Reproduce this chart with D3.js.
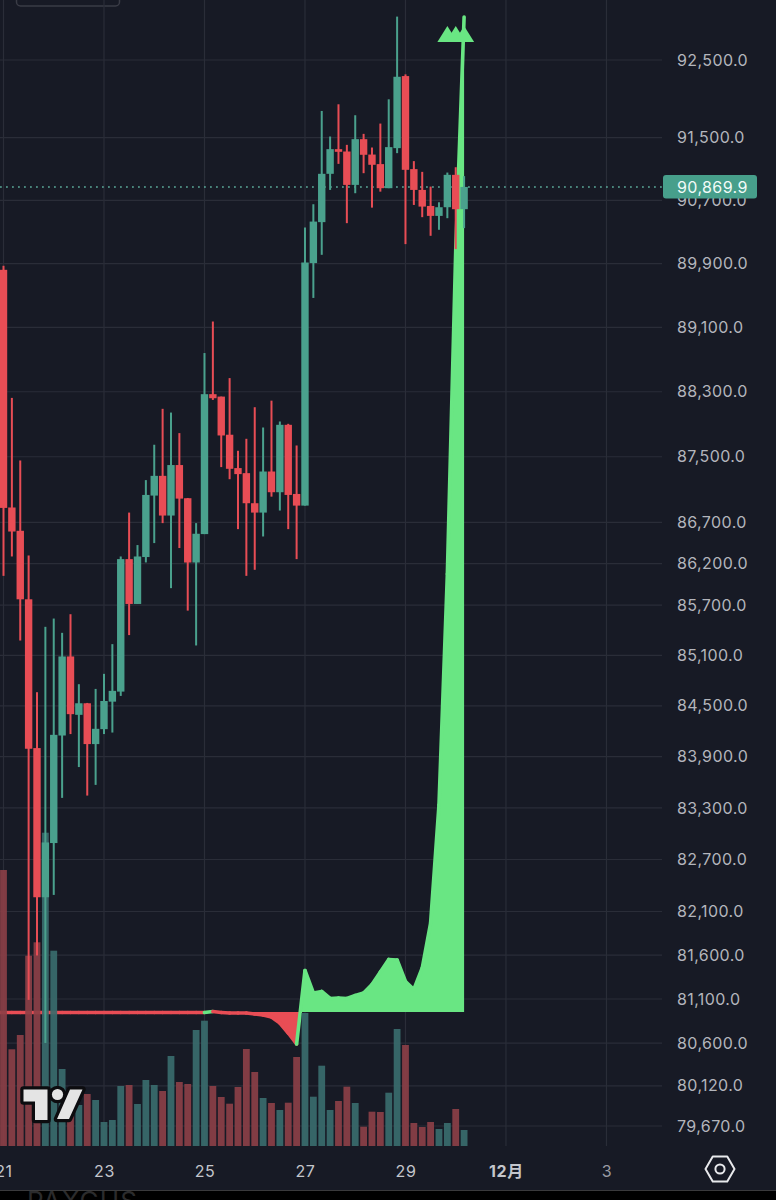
<!DOCTYPE html>
<html lang="en">
  <head>
    <meta charset="UTF-8" />
    <title>BTC 4h</title>
    <script src="https://cdn.jsdelivr.net/npm/d3@7/dist/d3.min.js"></script>
    <style>
      html, body { margin: 0; padding: 0; background: #000; overflow: hidden; }
      svg { display: block; }
      text { font-family: Inter, "Noto Sans CJK SC", sans-serif; }
    </style>
  </head>
  <body>
    <svg id="svgBox" width="776" height="1200"></svg>
  </body>
  <script>
    // 4h candles, index 0 = the 21st 00:00
    const opens = [89821,86880,86597,85770,84001,82264,82891,84149,85086,84393,84530,84048,84224,84549,84668,86254,85714,86279,87025,87266,86782,87398,86993,86213,86557,88270,88240,87770,87361,87299,86932,86818,87319,87066,87892,87045,86903,89906,90423,91037,91352,91322,90896,91480,91283,91161,90854,91365,92292,91097,90832,90628,90502,90612,91024,90587]
    const closes = [86875,86588,85770,83993,82264,82898,84157,85086,84401,84530,84048,84228,84557,84677,86254,85714,86286,87033,87266,86782,87398,86988,86213,86561,88270,88220,87761,87352,87287,86932,86818,87319,87066,87892,87033,86903,89913,90430,91037,91352,91318,90896,91480,91280,91152,90854,91378,92283,91088,90832,90620,90502,90612,91024,90587,90869.9]
    const highs = [89872,88224,87454,86298,84661,85440,85539,85368,85591,84756,84534,84700,84879,85233,86286,86818,86424,87214,87647,88089,88043,87790,86996,86690,88780,89173,88240,88469,87573,87720,88109,87859,88190,87933,87904,87638,90355,90650,91842,91514,91928,91407,91787,91548,91373,91680,91992,93064,92314,91199,91062,90874,90675,91053,91121,91008]
    const lows = [86052,86286,85276,81090,81596,80602,82291,83417,84166,83778,83444,83569,84166,84184,84617,85341,85714,86214,86448,86690,85904,86388,85634,85217,86557,88199,87373,87225,86617,86052,86125,86528,87012,86843,86617,86254,86903,89468,90010,90832,91164,90410,90790,91045,90607,90810,90854,91301,90145,90641,90486,90250,90326,90473,90082,90347]
    const volumes = [2760,967,1110,1903,2037,3133,1953,770,360,410,520,460,240,260,600,610,420,660,610,550,900,640,620,1160,1253,600,490,423,590,970,740,480,430,360,433,890,1330,493,803,360,450,593,430,193,343,340,533,1170,1010,230,190,240,170,230,370,160]
    // oscillator pane laid over the price pane
    const osc = [-0.5,-0.5,-0.5,-0.5,-0.5,-0.5,-0.5,-0.5,-0.5,-0.5,-0.5,-0.5,-0.5,-0.5,-0.5,-0.5,-0.5,-0.5,-0.5,-0.5,-0.5,-0.5,-0.5,-0.5,-0.5,0.5,-0.5,-1,-1,-1,-2,-3,-5,-11,-21,-32,41.5,19,20.5,13.5,14,13.5,16.5,19,27.5,40,52.5,52,30.5,22.5,44,89,207,438,762,995]
    const markerIdx = [53,54,55]
    const markerPrice = 92733
    const priceTicks = [92500,91500,90700,89900,89100,88300,87500,86700,86200,85700,85100,84500,83900,83300,82700,82100,81600,81100,80600,80120,79670]
    const timeTicks = [0,12,24,36,48,60,72]
    const timeLabels = ['21','23','25','27','29','12月','3']
    const lastPrice = 90869.9

    const bg = '#171a25'
    const up = '#4aa18d'
    const down = '#e84d55'
    const volUp = '#3a6b6c'
    const volDown = '#8b3f47'
    const oscUp = '#69e683'
    const gridColor = '#2a2d38'

    const svg = d3.select('#svgBox')
    const plotRight = 662
    const plotBottom = 1146

    const xScale = d3.scaleLinear().domain([0, 55]).range([3.5, 464.1])
    const yScale = d3.scaleLog().domain([79670, 92500]).range([1126, 60])
    const volScale = d3.scaleLinear().domain([0, 3200]).range([plotBottom, 826])
    const oscScale = d3.scaleLinear().domain([0, 1000]).range([1012, 12])

    svg.append('rect').attr('width', 776).attr('height', 1190).attr('fill', bg)
    svg.append('rect').attr('y', 1190).attr('width', 776).attr('height', 1).attr('fill', '#3a3a3c')
    svg.append('rect').attr('y', 1191).attr('width', 776).attr('height', 9).attr('fill', '#000')
    svg.append('text').attr('x', 27).attr('y', 1210).attr('font-size', 26).attr('letter-spacing', 1)
      .attr('fill', '#2b2b2c').text('PAXGUS')

    // 顶部残留的按钮边框
    svg.append('rect').attr('x', 16.5).attr('y', -12).attr('width', 103).attr('height', 18).attr('rx', 4)
      .attr('fill', 'none').attr('stroke', '#3a3c46').attr('stroke-width', 1.5)

    // 网格
    const gridG = svg.append('g').attr('stroke', gridColor).attr('stroke-width', 1.2)
    gridG.selectAll('.h').data(priceTicks).join('line').attr('class', 'h')
      .attr('x1', 0).attr('x2', plotRight).attr('y1', d => yScale(d)).attr('y2', d => yScale(d))
    gridG.selectAll('.v').data(timeTicks).join('line').attr('class', 'v')
      .attr('x1', d => xScale(d)).attr('x2', d => xScale(d)).attr('y1', 0).attr('y2', plotBottom)

    // 现价虚线
    svg.append('line').attr('x1', 0).attr('x2', plotRight)
      .attr('y1', yScale(lastPrice)).attr('y2', yScale(lastPrice))
      .attr('stroke', '#5aa898').attr('stroke-width', 1.6).attr('stroke-dasharray', '1.8 4.2')

    // 指标面积：零轴上下分别裁剪
    const defs = svg.append('defs')
    defs.append('clipPath').attr('id', 'aboveZero').append('rect')
      .attr('x', 0).attr('y', 0).attr('width', 776).attr('height', oscScale(0))
    defs.append('clipPath').attr('id', 'belowZero').append('rect')
      .attr('x', 0).attr('y', oscScale(0)).attr('width', 776).attr('height', 200)
    const oscArea = d3.area()
      .x((d, i) => xScale(i))
      .y0(oscScale(0))
      .y1(d => oscScale(d))
    svg.append('path').attr('d', oscArea(osc)).attr('fill', oscUp).attr('clip-path', 'url(#aboveZero)')
    svg.append('path').attr('d', oscArea(osc)).attr('fill', down).attr('clip-path', 'url(#belowZero)')
    const segG = svg.append('g').attr('fill', 'none').attr('stroke-width', 3.6).attr('stroke-linecap', 'round')
    // 线从画面左边缘开始
    segG.append('line').attr('x1', 0).attr('x2', xScale(0))
      .attr('y1', oscScale(osc[0])).attr('y2', oscScale(osc[0])).attr('stroke', down)
    segG.selectAll('line.seg').data(d3.range(osc.length - 1)).join('line').attr('class', 'seg')
      .attr('x1', i => xScale(i)).attr('y1', i => oscScale(osc[i]))
      .attr('x2', i => xScale(i + 1)).attr('y2', i => oscScale(osc[i + 1]))
      .attr('stroke', i => (osc[i + 1] >= 0 ? oscUp : down))

    // 指标顶部三角标记
    svg.append('g').selectAll('path').data(markerIdx).join('path')
      .attr('fill', oscUp)
      .attr('d', i => {
        const p = d3.path()
        const cx = xScale(i)
        const by = yScale(markerPrice)
        p.moveTo(cx - 10, by)
        p.lineTo(cx, by - 16)
        p.lineTo(cx + 10, by)
        p.closePath()
        return p
      })

    // 成交量
    svg.append('g').selectAll('rect').data(volumes).join('rect')
      .attr('x', (d, i) => xScale(i) - 3.4)
      .attr('width', 6.8)
      .attr('y', d => volScale(d))
      .attr('height', d => plotBottom - volScale(d))
      .attr('fill', (d, i) => (closes[i] >= opens[i] ? volUp : volDown))
      .attr('fill-opacity', 0.92)

    // K线
    const candle = svg.append('g').selectAll('g').data(opens).join('g')
      .attr('fill', (d, i) => (closes[i] >= opens[i] ? up : down))
    candle.append('rect')
      .attr('x', (d, i) => xScale(i) - 1)
      .attr('width', 2)
      .attr('y', (d, i) => yScale(highs[i]))
      .attr('height', (d, i) => yScale(lows[i]) - yScale(highs[i]))
    candle.append('rect')
      .attr('x', (d, i) => xScale(i) - 3.7)
      .attr('width', 7.4)
      .attr('y', (d, i) => yScale(Math.max(opens[i], closes[i])))
      .attr('height', (d, i) => Math.max(1.5, Math.abs(yScale(opens[i]) - yScale(closes[i]))))

    // 坐标轴
    const yAxis = d3.axisRight(yScale)
      .tickValues(priceTicks)
      .tickSize(0)
      .tickPadding(0)
      .tickFormat(d3.format(',.1f'))
    const yG = svg.append('g').attr('transform', 'translate(677 0)').call(yAxis)
    yG.select('.domain').remove()
    yG.selectAll('text').attr('font-size', 16).attr('letter-spacing', 0.4).attr('fill', '#b3b5bc').attr('font-family', null)

    const xAxis = d3.axisBottom(xScale)
      .tickValues(timeTicks)
      .tickSize(0)
      .tickPadding(0)
      .tickFormat((d, i) => timeLabels[i])
    const xG = svg.append('g').attr('transform', 'translate(0 1166)').call(xAxis)
    xG.select('.domain').remove()
    xG.selectAll('text').attr('font-size', 16).attr('letter-spacing', 0.6).attr('fill', '#c4c6cc').attr('font-family', null)
      .attr('font-weight', d => (d === 60 ? 700 : 400))
    xG.selectAll('text').filter(d => d === 72).attr('fill', '#9a9ca4')

    // 现价标签
    const badge = svg.append('g')
    badge.append('rect').attr('x', 663).attr('y', yScale(lastPrice) - 12).attr('width', 94).attr('height', 23.5)
      .attr('rx', 3).attr('fill', '#479f8b')
    badge.append('text').attr('x', 677).attr('y', yScale(lastPrice)).attr('dy', '0.36em')
      .attr('font-size', 16).attr('letter-spacing', 0.4).attr('fill', '#f1fbf8').text(d3.format(',.1f')(lastPrice))

    // 右下角设置图标
    const hex = d3.range(6).map(k => {
      const a = (Math.PI / 3) * k
      return [720 + 14.5 * Math.cos(a), 1169 + 14.5 * Math.sin(a)]
    })
    svg.append('path').attr('d', d3.line().curve(d3.curveLinearClosed)(hex))
      .attr('fill', 'none').attr('stroke', '#e8e9ec').attr('stroke-width', 2).attr('stroke-linejoin', 'round')
    svg.append('circle').attr('cx', 720).attr('cy', 1169).attr('r', 4.6)
      .attr('fill', 'none').attr('stroke', '#e8e9ec').attr('stroke-width', 2)

    // TV logo
    const logo = svg.append('g')
    const logoParts = 'M23.5 1089.5H47.5V1120H35V1101.5H23.5Z M70 1089.5H82.5L69 1119H57Z'
    logo.append('path').attr('d', logoParts).attr('fill', '#e4e4e4')
      .attr('stroke', '#0c0c0f').attr('stroke-width', 6.5).attr('stroke-linejoin', 'round').attr('paint-order', 'stroke')
    logo.append('circle').attr('cx', 57.5).attr('cy', 1094.5).attr('r', 5.6).attr('fill', '#e4e4e4')
      .attr('stroke', '#0c0c0f').attr('stroke-width', 6.5).attr('paint-order', 'stroke')
  </script>
</html>
